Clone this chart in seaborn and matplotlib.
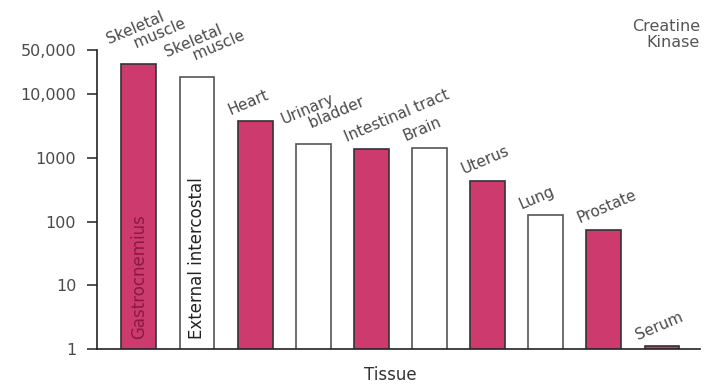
import numpy as np
import pandas as pd
import seaborn as sns
import matplotlib.pyplot as plt
from matplotlib.ticker import FixedLocator, NullLocator

sns.set_theme(style="white")
plt.rcParams['font.family'] = ['DejaVu Sans']

tissues = ["Skeletal\n     muscle", "Skeletal\n     muscle", "Heart", "Urinary\n     bladder",
           "Intestinal tract", "Brain", "Uterus", "Lung", "Prostate", "Serum"]
activity = [30000, 19000, 3800, 1650, 1400, 1450, 440, 125, 75, 1.1]
filled = [True, False, True, False, True, False, True, False, True, True]
inner_labels = ["Gastrocnemius", "External intercostal"]
yticks = [1, 10, 100, 1000, 10000, 50000]
ytick_labels = ["1", "10", "100", "1000", "10,000", "50,000"]

pink = "#cc3a6e"
txt = "#4a4a4a"
df = pd.DataFrame({"pos": [str(i) for i in range(len(tissues))], "value": activity})

fig = plt.figure(figsize=(7.05, 3.85), dpi=100)
ax = fig.add_axes([0.1376, 0.094, 0.855, 0.776])
sns.barplot(data=df, x="pos", y="value", ax=ax, width=0.6, color="white")
ax.set_yscale("log")
ax.set_ylim(1, 50000)
ax.set_xlim(-0.72, len(tissues) - 0.35)

for bar, f in zip(ax.patches, filled):
    bar.set_facecolor(pink if f else "white")
    bar.set_edgecolor("#333333" if f else "#555555")
    bar.set_linewidth(1.2)

for i, (lab, v) in enumerate(zip(tissues, activity)):
    ax.text(i - 0.4, v * 1.15, lab, rotation=23, rotation_mode="anchor",
            ha="left", va="bottom", fontsize=11, color=txt,
            multialignment="left", linespacing=0.95)

for i, lab in enumerate(inner_labels):
    ax.text(i, 1.45, lab, rotation=90, ha="center", va="bottom", fontsize=12,
            color="#8a1a40" if i == 0 else "#222222")

ax.yaxis.set_major_locator(FixedLocator(yticks))
ax.yaxis.set_minor_locator(NullLocator())
ax.set_yticklabels(ytick_labels, fontsize=11.5, color=txt)
ax.tick_params(axis="y", left=True, length=7, width=1.2, color="#333333", pad=8)
ax.set_xticks([])
ax.set_xlabel("")
ax.set_ylabel("")
for s in ["top", "right"]:
    ax.spines[s].set_visible(False)
for s in ["left", "bottom"]:
    ax.spines[s].set_color("#222222")
    ax.spines[s].set_linewidth(1.2)

fig.text(390 / 705, 1 - 366 / 385, "Tissue", ha="center", va="top", fontsize=12, color="#333333")
fig.text(0.993, 0.87, "Creatine\nKinase", ha="right", va="bottom", fontsize=11.5,
         color="#555555", multialignment="right", linespacing=1.1)

fig.savefig("out.png", dpi=100)
